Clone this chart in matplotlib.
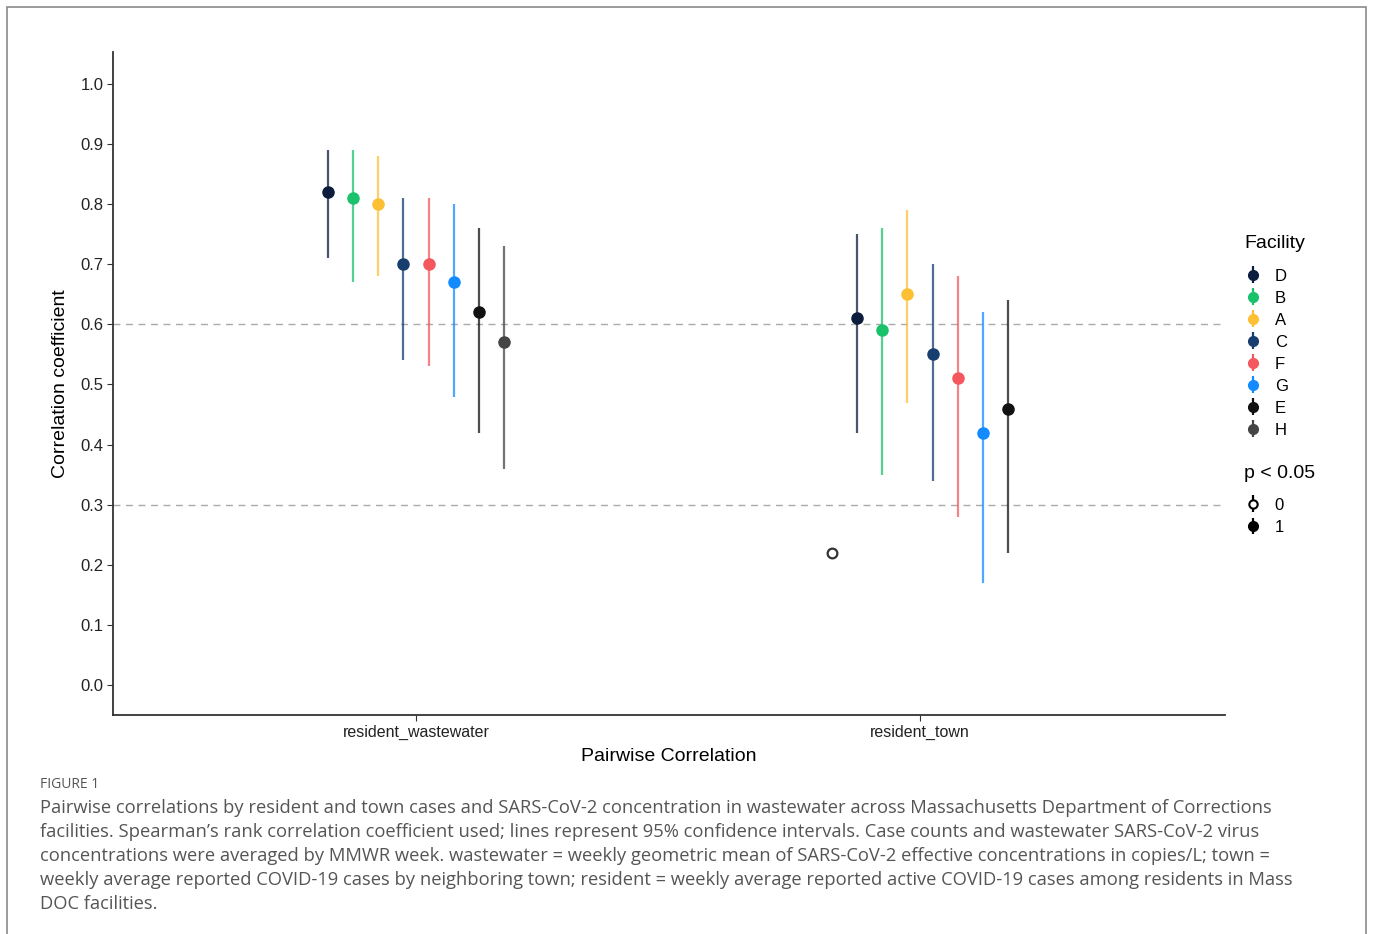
#! /usr/bin/env python3

# import libraries
import numpy as np
import matplotlib
matplotlib.use("Agg")
import matplotlib.pyplot as plt
from matplotlib.patches import Rectangle


# data
pairs = ["resident_wastewater", "resident_town"]
facilities = ["D", "B", "A", "C", "F", "G", "E", "H"]

ww_est = [0.82, 0.81, 0.80, 0.70, 0.70, 0.67, 0.62, 0.57]
ww_lo = [0.71, 0.67, 0.68, 0.54, 0.53, 0.48, 0.42, 0.36]
ww_hi = [0.89, 0.89, 0.88, 0.81, 0.81, 0.80, 0.76, 0.73]
ww_sig = [1, 1, 1, 1, 1, 1, 1, 1]

town_est = [0.61, 0.59, 0.65, 0.55, 0.51, 0.42, 0.46, 0.22]
town_lo = [0.42, 0.35, 0.47, 0.34, 0.28, 0.17, 0.22, np.nan]
town_hi = [0.75, 0.76, 0.79, 0.70, 0.68, 0.62, 0.64, np.nan]
town_sig = [1, 1, 1, 1, 1, 1, 1, 0]

# dodge slot of each point in the town group (non-significant point comes first)
town_slot = [1, 2, 3, 4, 5, 6, 7, 0]

lst_color = ["#0b1c3d", "#19c26b", "#fdbf33", "#173e6e", "#f4575d", "#138bff", "#111111", "#454545"]


# set matplotlib parameters
plt.rcParams["font.family"] = ["Liberation Sans", "DejaVu Sans"]
plt.rcParams["axes.linewidth"] = 1.3
plt.rcParams["ytick.major.size"] = 4
plt.rcParams["xtick.major.size"] = 4


# setup figure
fig = plt.figure(figsize=(13.73, 9.34), dpi=100)
ax = fig.add_axes([113 / 1373, 1 - 715 / 934, 1112 / 1373, 663 / 934])

dodge = 0.05


def draw_point(x, est, lo, hi, color, sig):
    if not np.isnan(lo):
        ax.plot([x, x], [lo, hi], color=color, lw=1.6, alpha=0.75, solid_capstyle="butt", zorder=2)
    if sig:
        ax.plot(x, est, "o", color=color, ms=8, zorder=3)
    else:
        ax.plot(x, est, "o", mfc="white", mec="#333333", mew=1.6, ms=7, zorder=3)


# plot figure
for i in range(len(facilities)):
    x1 = 1 + (i - 3.5) * dodge
    draw_point(x1, ww_est[i], ww_lo[i], ww_hi[i], lst_color[i], ww_sig[i])
    x2 = 2 + (town_slot[i] - 3.5) * dodge
    draw_point(x2, town_est[i], town_lo[i], town_hi[i], lst_color[i], town_sig[i])

for yref in [0.6, 0.3]:
    ax.axhline(yref, color="#aaaaaa", lw=1.0, ls=(0, (5, 4)), zorder=1)

ax.set_xlim(0.399, 2.605)
ax.set_ylim((685 - 715) / 601, (685 - 52) / 601)
ax.set_xticks([1, 2])
ax.set_xticklabels(pairs, fontsize=11.5)
ax.set_yticks(np.arange(0, 1.01, 0.1))
ax.set_yticklabels(["%.1f" % v for v in np.arange(0, 1.01, 0.1)], fontsize=12)
ax.tick_params(axis="both", colors="#333333", labelcolor="#222222", pad=3)
ax.spines["top"].set_visible(False)
ax.spines["right"].set_visible(False)
ax.spines["left"].set_color("#333333")
ax.spines["bottom"].set_color("#333333")
ax.set_xlabel("Pairwise Correlation", fontsize=14, labelpad=6)
ax.set_ylabel("Correlation coefficient", fontsize=14, labelpad=8)


# legends
leg_kw = dict(loc="upper left", bbox_transform=fig.transFigure, frameon=False, fontsize=12,
              handlelength=1.0, handletextpad=0.8, labelspacing=0.42, borderaxespad=0)

fac_handles = []
for i in range(len(facilities)):
    h = ax.errorbar([], [], yerr=[], fmt="o", color=lst_color[i], ms=7, elinewidth=1.6, capsize=0)
    fac_handles.append(h)
leg1 = ax.legend(fac_handles, facilities, bbox_to_anchor=(1238 / 1373, 1 - 262 / 934), **leg_kw)
ax.add_artist(leg1)

p0 = ax.errorbar([], [], yerr=[], fmt="o", mfc="white", mec="black", mew=1.5, color="black",
                 ms=6, elinewidth=1.6, capsize=0)
p1 = ax.errorbar([], [], yerr=[], fmt="o", color="black", ms=7, elinewidth=1.6, capsize=0)
ax.legend([p0, p1], ["0", "1"], bbox_to_anchor=(1238 / 1373, 1 - 491 / 934), **leg_kw)

fig.text(1244 / 1373, 1 - 243 / 934, "Facility", fontsize=14, va="center", ha="left")
fig.text(1244 / 1373, 1 - 473 / 934, "p < 0.05", fontsize=14, va="center", ha="left")


# page frame and caption
fig.add_artist(Rectangle((7 / 1373, -0.01), 1359 / 1373, 1 - 7 / 934 + 0.01,
                         transform=fig.transFigure, fill=False, edgecolor="#8a8a8a", lw=1.2))

fig.text(40 / 1373, 1 - 785 / 934, "FIGURE 1", fontsize=10, color="#555555",
         family=["Open Sans", "DejaVu Sans"], va="center")
caption = [
    "Pairwise correlations by resident and town cases and SARS-CoV-2 concentration in wastewater across Massachusetts Department of Corrections",
    "facilities. Spearman\u2019s rank correlation coefficient used; lines represent 95% confidence intervals. Case counts and wastewater SARS-CoV-2 virus",
    "concentrations were averaged by MMWR week. wastewater = weekly geometric mean of SARS-CoV-2 effective concentrations in copies/L; town =",
    "weekly average reported COVID-19 cases by neighboring town; resident = weekly average reported active COVID-19 cases among residents in Mass",
    "DOC facilities.",
]
for k, line in enumerate(caption):
    fig.text(40 / 1373, 1 - (808 + 24 * k) / 934, line, fontsize=13.25, color="#555555",
             family=["Open Sans", "DejaVu Sans"], va="center")

fig.savefig("out.png", dpi=100, facecolor="white")
